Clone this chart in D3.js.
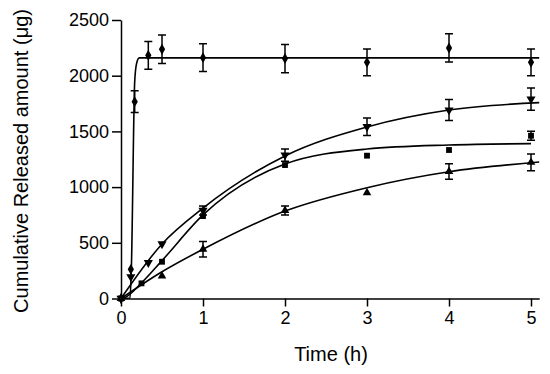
<!DOCTYPE html>
<html>
<head>
<meta charset="utf-8">
<script src="https://cdn.jsdelivr.net/npm/d3@7"></script>
<style>
  body { margin: 0; background: #fff; }
  text { font-family: "Liberation Sans", Arial, sans-serif; fill: #000; }
</style>
</head>
<body>
<svg id="chart" width="550" height="374"></svg>
<script>
// measured points (time in h, amount in ug, sd)
const burstTime = [0, 0.12, 0.167, 0.333, 0.5, 1, 2, 3, 4, 5];
const burstAmount = [0, 262, 1767, 2183, 2237, 2162, 2154, 2120, 2249, 2120];
const burstErr = [0, 15, 97, 124, 128, 124, 127, 120, 127, 120];

const downTime = [0, 0.12, 0.333, 0.5, 1, 2, 3, 4, 5];
const downAmount = [0, 195, 321, 490, 790, 1288, 1542, 1692, 1790];
const downErr = [0, 10, 15, 20, 40, 55, 78, 95, 100];

const squareTime = [0, 0.25, 0.5, 1, 2, 3, 4, 5];
const squareAmount = [0, 136, 330, 740, 1198, 1282, 1333, 1461];
const squareErr = [0, 10, 15, 30, 25, 20, 30, 40];

const upTime = [0, 0.5, 1, 2, 3, 4, 5];
const upAmount = [0, 202, 442, 790, 950, 1140, 1222];
const upErr = [0, 10, 70, 40, 25, 70, 75];

// fitted curves
const fitBurstTime = [0, 0.11, 0.126, 0.167, 0.19, 0.223, 5.1];
const fitBurstAmount = [0, 5, 262, 1946, 2110, 2160, 2160];
const fitDownTime = [0, 0.5, 1, 2, 3, 4, 5.1];
const fitDownAmount = [0, 490, 812, 1280, 1540, 1692, 1758];
const fitSquareTime = [0, 0.05, 0.25, 0.5, 1, 2, 3, 4, 5];
const fitSquareAmount = [0, 10, 140, 340, 750, 1207, 1342, 1378, 1390];
const fitUpTime = [0, 0.5, 1, 2, 3, 4, 5.1];
const fitUpAmount = [0, 240, 442, 785, 995, 1138, 1225];

const xTicks = [0, 1, 2, 3, 4, 5];
const yTicks = [0, 500, 1000, 1500, 2000, 2500];

const svg = d3.select('#chart');
svg.append('rect').attr('width', 550).attr('height', 374).attr('fill', '#fff');

const x = d3.scaleLinear().domain([0, 5.1]).range([121, 539.2]),
  y = d3.scaleLinear().domain([0, 2500]).range([298.5, 20]);

const zip = (a, b, e) => a.map((t, i) => ({ t: t, v: b[i], e: e ? e[i] : 0 }));

// axes
const gx = svg.append('g')
  .attr('transform', `translate(0,${y(0)})`)
  .call(d3.axisBottom(x).tickValues(xTicks).tickFormat(d3.format('d')).tickSize(8).tickSizeOuter(0).tickPadding(5));
const gy = svg.append('g')
  .attr('transform', `translate(${x(0)},0)`)
  .call(d3.axisLeft(y).tickValues(yTicks).tickFormat(d3.format('d')).tickSize(9).tickSizeOuter(0).tickPadding(3));
[gx, gy].forEach(g => {
  g.selectAll('path, line').attr('stroke', '#000').attr('stroke-width', 1.5);
  g.selectAll('text').style('font-size', '18px').attr('fill', '#000');
  g.attr('font-family', null);
});

svg.append('text')
  .attr('x', 331).attr('y', 361)
  .attr('text-anchor', 'middle')
  .style('font-size', '20px')
  .text('Time (h)');
svg.append('text')
  .attr('transform', 'translate(28,161) rotate(-90)')
  .attr('text-anchor', 'middle')
  .style('font-size', '20px')
  .text('Cumulative Released amount (\u03bcg)');

// fitted lines
const line = d3.line().x(d => x(d.t)).y(d => y(d.v)).curve(d3.curveMonotoneX);
const fits = [
  zip(fitBurstTime, fitBurstAmount),
  zip(fitDownTime, fitDownAmount),
  zip(fitSquareTime, fitSquareAmount),
  zip(fitUpTime, fitUpAmount)
];
fits.forEach(f => {
  svg.append('path')
    .datum(f)
    .attr('fill', 'none')
    .attr('stroke', '#000')
    .attr('stroke-width', 1.6)
    .attr('d', line);
});

// points with error bars
const series = [
  { data: zip(burstTime, burstAmount, burstErr), sym: d3.symbolDiamond, size: 34, rot: 0 },
  { data: zip(downTime, downAmount, downErr), sym: d3.symbolTriangle, size: 36, rot: 180 },
  { data: zip(squareTime, squareAmount, squareErr), sym: d3.symbolSquare, size: 34, rot: 0 },
  { data: zip(upTime, upAmount, upErr), sym: d3.symbolTriangle, size: 32, rot: 0 }
];
const cap = 4;
series.forEach(s => {
  const g = svg.append('g');
  const bars = s.data.filter(d => y(d.v - d.e) - y(d.v + d.e) > 8);
  g.selectAll('path.err')
    .data(bars)
    .join('path')
    .attr('class', 'err')
    .attr('fill', 'none')
    .attr('stroke', '#000')
    .attr('stroke-width', 1.5)
    .attr('d', d => {
      const cx = x(d.t), top = y(d.v + d.e), bot = y(d.v - d.e);
      return `M${cx},${top}V${bot}M${cx - cap},${top}H${cx + cap}M${cx - cap},${bot}H${cx + cap}`;
    });
  g.selectAll('path.pt')
    .data(s.data)
    .join('path')
    .attr('class', 'pt')
    .attr('fill', '#000')
    .attr('d', d3.symbol().type(s.sym).size(s.size))
    .attr('transform', d => `translate(${x(d.t)},${y(d.v)}) rotate(${s.rot})`);
});
</script>
</body>
</html>
